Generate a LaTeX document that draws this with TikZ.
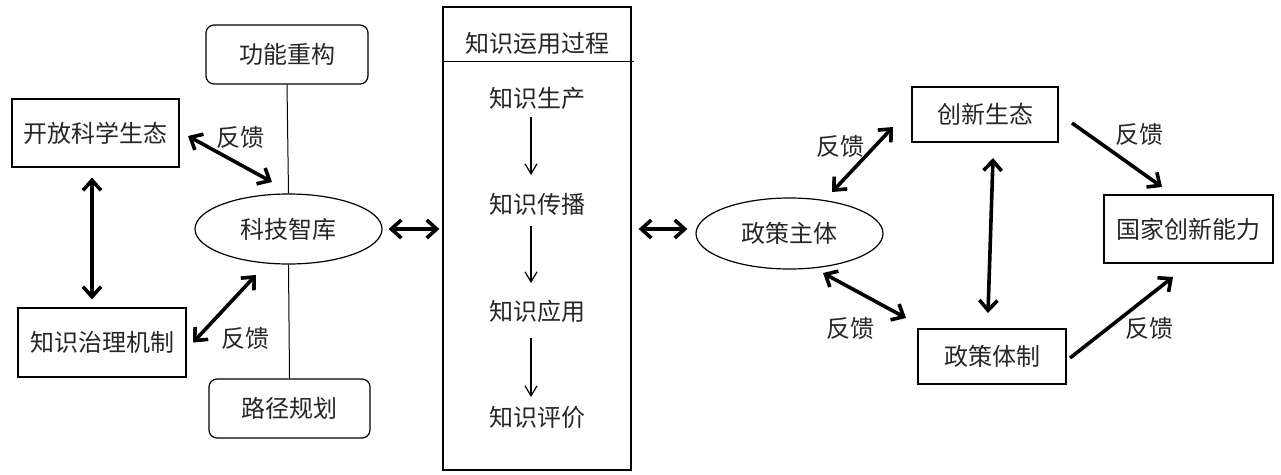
\documentclass[tikz,border=0pt]{standalone}
\usepackage{fontspec}
\setmainfont{Noto Sans CJK SC}
\usetikzlibrary{arrows.meta,calc,shapes.geometric}
\begin{document}
\begin{tikzpicture}[x=1pt,y=-1pt,
  every node/.style={font=\fontsize{24}{28}\selectfont, text=black!85, inner sep=0pt},
  box/.style={draw, line width=1.2pt, rectangle},
  rbox/.style={box, rounded corners=8pt},
  oval/.style={draw, line width=1.2pt, ellipse},
  dbl/.style={line width=3.6pt, {Straight Barb[length=10pt,width=18pt]}-{Straight Barb[length=10pt,width=18pt]}},
  sgl/.style={line width=3.6pt, -{Straight Barb[length=10pt,width=18pt]}},
  thinarrow/.style={line width=1.2pt, -{Straight Barb[length=10pt,width=12pt]}},
  plain/.style={line width=1pt}
]
\useasboundingbox (0,0) rectangle (1281,474);

% left part
\node[rbox, minimum width=162, minimum height=59] (gn) at (287,54.5) {功能重构};
\node[rbox, minimum width=161, minimum height=59] (lj) at (289.5,408.5) {路径规划};
\node[box, minimum width=167, minimum height=68] (kf) at (95.5,133) {开放科学生态};
\node[box, minimum width=168, minimum height=69] (zs) at (102,342.5) {知识治理机制};
\node[oval, minimum width=187, minimum height=70] (kj) at (288.5,229) {科技智库};

\draw[plain] (gn.south) -- (kj.north);
\draw[plain] (kj.south) -- (lj.north);

\draw[dbl] ($(kf)+(92.5,3)$) -- ($(kj)+(-16.5,-47)$);
\node (f1) at (240,137) {反馈};
\draw[dbl] ($(kf.south)+(-3.5,10)$) -- ($(zs.north)+(-10,-8)$);
\draw[dbl] ($(zs)+(91,0)$) -- ($(kj)+(-32.5,46)$);
\node (f2) at (245,338) {反馈};

% center box
\node[box, minimum width=188, minimum height=463] (kp) at (537,238.5) {};
\draw[plain] ($(kp.north west)+(0,55)$) -- ($(kp.north east)+(2,55)$);
\node (t0) at (537,43) {知识运用过程};
\node (p1) at (537,98) {知识生产};
\node (p2) at (537,204) {知识传播};
\node (p3) at (537,311) {知识应用};
\node (p4) at (537,417) {知识评价};
\draw[thinarrow] ($(p1)+(-6,19)$) -- ($(p2)+(-6,-29)$);
\draw[thinarrow] ($(p2)+(-6,22)$) -- ($(p3)+(-6,-28)$);
\draw[thinarrow] ($(p3)+(-6,27)$) -- ($(p4)+(-6,-20)$);

\draw[dbl] ($(kj.east)+(6,0)$) -- ($(kp.west)+(-3,-9.5)$);

% right part
\node[oval, minimum width=187, minimum height=71] (zc) at (789.5,233.5) {政策主体};
\node[box, minimum width=146, minimum height=55] (cx) at (985,114.5) {创新生态};
\node[box, minimum width=148, minimum height=55] (zt) at (992,356.5) {政策体制};
\node[box, minimum width=169, minimum height=68] (gj) at (1188.5,229) {国家创新能力};

\draw[dbl] ($(kp.east)+(7,-9.5)$) -- ($(zc.west)+(-8,-4.5)$);

\draw[dbl] ($(zc)+(42.5,-41.5)$) -- ($(cx)+(-92,12.5)$);
\node (f3) at (840,146) {反馈};
\draw[dbl] ($(zc)+(33.5,39.5)$) -- ($(zt)+(-86,-38.5)$);
\node (f4) at (850,328) {反馈};
\draw[dbl] ($(cx)+(8,43.5)$) -- ($(zt)+(-4,-43.5)$);
\draw[sgl] ($(cx)+(87,8.5)$) -- ($(gj)+(-26.5,-42)$);
\node (f5) at (1139,134) {反馈};
\draw[sgl] ($(zt)+(78,1.5)$) -- ($(gj)+(-15.5,48)$);
\node (f6) at (1149,328) {反馈};
\end{tikzpicture}
\end{document}
